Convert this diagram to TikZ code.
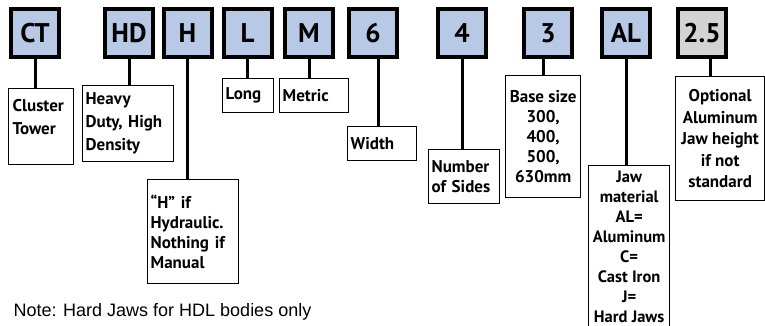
\documentclass[tikz,border=0pt]{standalone}
\usepackage{fontspec}
\setmainfont{PT Sans}
\newfontfamily\notefont{Liberation Sans}
\usetikzlibrary{positioning}
\definecolor{codeblue}{RGB}{183,201,229}
\definecolor{codegray}{RGB}{211,211,211}

\begin{document}
\begin{tikzpicture}[x=1pt, y=-1pt,
    code/.style={rectangle, draw=black, line width=4pt, fill=#1, minimum size=48pt, inner sep=0pt, font=\bfseries\fontsize{27}{27}\selectfont},
    desc/.style={rectangle, draw=black, line width=1.3pt, anchor=north west, inner sep=3pt, align=#1, font=\bfseries\fontsize{17}{20}\selectfont},
    stem/.style={line width=3pt}
]
\useasboundingbox (0,0) rectangle (765,326);

% part number fields
\node[code=codeblue] (ct) at (35,33) {CT};
\node[code=codeblue] (hd) at (129,33) {HD};
\node[code=codeblue] (hyd) at (187.5,33) {H};
\node[code=codeblue] (lng) at (247.5,33) {L};
\node[code=codeblue] (met) at (309,33) {M};
\node[code=codeblue] (wid) at (373,33) {6};
\node[code=codeblue] (sides) at (462,33) {4};
\node[code=codeblue] (base) at (548,33) {3};
\node[code=codeblue] (jaw) at (626,33) {AL};
\node[code=codegray] (opt) at (702,33) {2.5};

% explanations
\node[desc=left, text width=57pt, minimum width=65pt, minimum height=76pt,
      font=\bfseries\fontsize{17}{23}\selectfont] (ctinfo) at (8,88) {Cluster\\Tower\rule[-20pt]{0pt}{0pt}};
\node[desc=left, text width=85pt, minimum width=91pt, minimum height=76pt,
      font=\bfseries\fontsize{17}{23}\selectfont] (hdinfo) at (82,85) {Heavy\\Duty, High\\Density};
\node[desc=left, text width=85pt, minimum width=91pt, minimum height=104pt] (hydinfo) at (147,179) {``H'' if\\Hydraulic.\\Nothing if\\Manual};
\node[desc=left, text width=45pt, minimum width=51pt, minimum height=34pt] (lnginfo) at (222,78) {Long};
\node[desc=left, text width=63pt, minimum width=69pt, minimum height=34pt] (metinfo) at (279,78) {Metric};
\node[desc=left, text width=63pt, minimum width=69pt, minimum height=34pt] (widinfo) at (347,126) {Width};
\node[desc=left, text width=65pt, minimum width=71pt, minimum height=54pt] (sidesinfo) at (428,149) {Number\\of Sides};
\node[desc=center, minimum width=75pt, minimum height=122pt] (baseinfo) at (505,75) {Base size\\300,\\400,\\500,\\630mm};
\node[desc=center, minimum width=81pt, inner ysep=5pt,
      font=\bfseries\fontsize{16.5}{20}\selectfont] (jawinfo) at (588,165) {Jaw\\material\\AL=\\Aluminum\\C=\\Cast Iron\\J=\\Hard Jaws\rule[-20pt]{0pt}{0pt}};
\node[desc=center, minimum width=89pt, minimum height=124pt,
      font=\bfseries\fontsize{17}{21.5}\selectfont] (optinfo) at (675,76) {Optional\\Aluminum\\Jaw height\\if not\\standard};

% stems
\draw[stem] (ct.south) -- (ct.south |- ctinfo.north);
\draw[stem] (hd.south) -- (hd.south |- hdinfo.north);
\draw[stem] (hyd.south) -- (hyd.south |- hydinfo.north);
\draw[stem] (lng.south) -- (lng.south |- lnginfo.north);
\draw[stem] (met.south) -- (met.south |- metinfo.north);
\draw[stem] ([xshift=5pt]wid.south) -- ([xshift=5pt]wid.south |- widinfo.north);
\draw[stem] (sides.south) -- (sides.south |- sidesinfo.north);
\draw[stem] ([xshift=-5pt]base.south) -- ([xshift=-5pt]base.south |- baseinfo.north);
\draw[stem] (jaw.south) -- (jaw.south |- jawinfo.north);
\draw[stem] ([xshift=8pt]opt.south) -- ([xshift=8pt]opt.south |- optinfo.north);

\node[anchor=base west, font=\notefont\fontsize{18}{20}\selectfont] (note) at (10,316) {Note: Hard Jaws for HDL bodies only};
\end{tikzpicture}
\end{document}
